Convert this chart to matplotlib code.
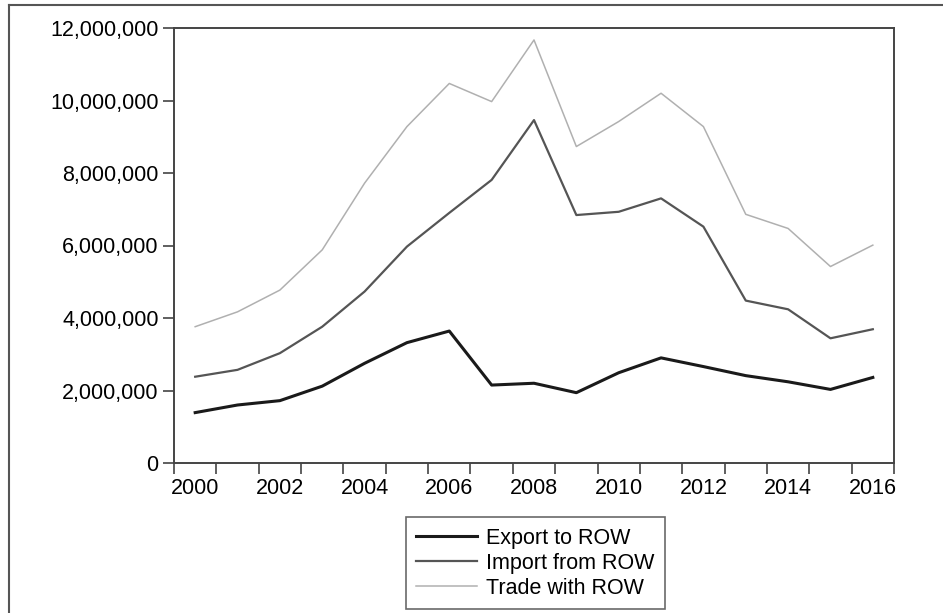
import numpy as np
import matplotlib.pyplot as plt
from matplotlib.lines import Line2D
from matplotlib.ticker import FuncFormatter, FixedLocator

plt.rcParams['font.family'] = ['Liberation Sans', 'DejaVu Sans']

years = list(range(2000, 2017))
export_row = [1.39e6, 1.60e6, 1.72e6, 2.12e6, 2.75e6, 3.32e6, 3.64e6, 2.15e6, 2.20e6,
              1.94e6, 2.49e6, 2.90e6, 2.66e6, 2.41e6, 2.24e6, 2.03e6, 2.36e6]
import_row = [2.38e6, 2.57e6, 3.03e6, 3.76e6, 4.73e6, 5.97e6, 6.90e6, 7.81e6, 9.46e6,
              6.84e6, 6.93e6, 7.30e6, 6.52e6, 4.48e6, 4.24e6, 3.44e6, 3.69e6]
trade_row = [3.76e6, 4.17e6, 4.77e6, 5.88e6, 7.72e6, 9.28e6, 10.47e6, 9.97e6, 11.67e6,
             8.73e6, 9.42e6, 10.20e6, 9.28e6, 6.86e6, 6.47e6, 5.42e6, 6.01e6]
year_labels = list(range(2000, 2017, 2))

W, H = 943, 613
fs = 15.5
fig = plt.figure(figsize=(W / 100, H / 100), dpi=100)
ax = fig.add_axes([174 / W, 1 - 463 / H, (894 - 174) / W, (463 - 28) / H])

ax.plot(years, export_row, color='#1a1a1a', lw=2.2, label='Export to ROW')
ax.plot(years, import_row, color='#555555', lw=1.6, label='Import from ROW')
ax.plot(years, trade_row, color='#b0b0b0', lw=1.1, label='Trade with ROW')

ax.set_xlim(1999.5, 2016.5)
ax.set_ylim(0, 12e6)

# tick marks at year boundaries, labels centred on the years
ax.xaxis.set_major_locator(FixedLocator(np.arange(1999.5, 2017, 1)))
ax.xaxis.set_major_formatter(FuncFormatter(lambda v, p: ''))
ax.xaxis.set_minor_locator(FixedLocator(year_labels))
ax.xaxis.set_minor_formatter(FuncFormatter(lambda v, p: str(int(round(v)))))
ax.tick_params(axis='x', which='major', direction='out', length=8, width=1.2, color='#444444')
ax.tick_params(axis='x', which='minor', length=0, pad=11, labelsize=fs)

ax.set_yticks(np.arange(0, 12.1e6, 2e6))
ax.yaxis.set_major_formatter(FuncFormatter(lambda v, p: f'{int(v):,}'))
ax.tick_params(axis='y', direction='out', length=8, width=1.2, color='#444444', pad=3, labelsize=fs)

for s in ax.spines.values():
    s.set_color('#444444')
    s.set_linewidth(1.4)

leg = ax.legend(loc='upper center', bbox_to_anchor=(535.5 / W, 1 - 517 / H),
                bbox_transform=fig.transFigure, fontsize=fs, frameon=True, fancybox=False,
                handlelength=2.8, handletextpad=0.45, labelspacing=0.18, borderpad=0.5,
                borderaxespad=0)
leg.get_frame().set_edgecolor('#444444')
leg.get_frame().set_linewidth(1.2)

# outer frame (top and left edges visible)
fig.add_artist(Line2D([9 / W, 9 / W], [0, 1 - 5 / H], color='#555555', lw=1.5))
fig.add_artist(Line2D([9 / W, 1], [1 - 5 / H, 1 - 5 / H], color='#555555', lw=1.5))

fig.savefig('out.png', dpi=100)
